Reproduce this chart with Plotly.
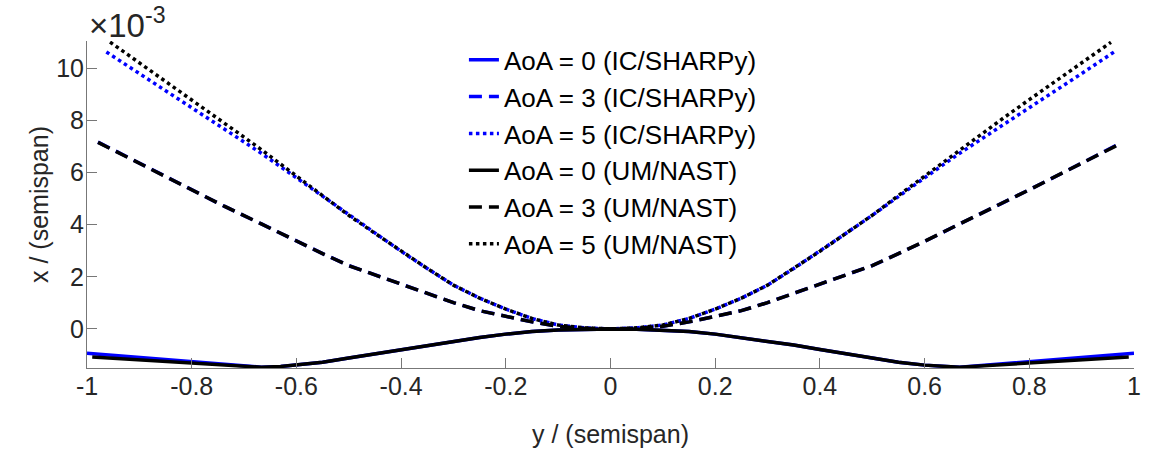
import plotly.graph_objects as go

# Chordwise deflection x (in units of 1e-3 semispan) along the span y / semispan

# AoA = 0
span_aoa0_ic = [-1.0, -0.667, -0.63, -0.6, -0.55, -0.5, -0.45, -0.4, -0.35, -0.3, -0.25, -0.2, -0.15, -0.1, -0.05, 0.0,
                0.05, 0.1, 0.15, 0.2, 0.25, 0.3, 0.35, 0.4, 0.45, 0.5, 0.55, 0.6, 0.63, 0.667, 1.0]
x_aoa0_ic = [-0.93, -1.47, -1.44, -1.39, -1.28, -1.12, -0.96, -0.79, -0.62, -0.47, -0.33, -0.20, -0.10, -0.04, -0.01, 0.0,
             -0.01, -0.04, -0.10, -0.20, -0.33, -0.47, -0.62, -0.79, -0.96, -1.12, -1.28, -1.39, -1.44, -1.47, -0.93]

span_aoa0_um = [-0.99, -0.667, -0.63, -0.6, -0.55, -0.5, -0.45, -0.4, -0.35, -0.3, -0.25, -0.2, -0.15, -0.1, -0.05, 0.0,
                0.05, 0.1, 0.15, 0.2, 0.25, 0.3, 0.35, 0.4, 0.45, 0.5, 0.55, 0.6, 0.63, 0.667, 0.99]
x_aoa0_um = [-1.08, -1.47, -1.44, -1.39, -1.28, -1.12, -0.96, -0.79, -0.62, -0.47, -0.33, -0.20, -0.10, -0.04, -0.01, 0.0,
             -0.01, -0.04, -0.10, -0.20, -0.33, -0.47, -0.62, -0.79, -0.96, -1.12, -1.28, -1.39, -1.44, -1.47, -1.08]

# AoA = 3
span_aoa3 = [-0.979, -0.9, -0.8, -0.738, -0.667, -0.6, -0.55, -0.5, -0.45, -0.4, -0.35, -0.3, -0.25, -0.2, -0.15, -0.1, -0.05, 0.0,
             0.05, 0.1, 0.15, 0.2, 0.25, 0.3, 0.35, 0.4, 0.45, 0.5, 0.55, 0.6, 0.667, 0.738, 0.8, 0.9, 0.976]
x_aoa3_ic = [7.17, 6.36, 5.34, 4.71, 4.03, 3.36, 2.89, 2.43, 2.07, 1.73, 1.37, 1.01, 0.70, 0.48, 0.27, 0.10, 0.02, 0.0,
             0.02, 0.10, 0.27, 0.48, 0.70, 1.01, 1.37, 1.73, 2.07, 2.43, 2.89, 3.36, 4.03, 4.71, 5.34, 6.36, 7.15]
x_aoa3_um = [7.16, 6.36, 5.34, 4.71, 4.03, 3.36, 2.89, 2.43, 2.07, 1.73, 1.37, 1.01, 0.70, 0.48, 0.27, 0.10, 0.02, 0.0,
             0.02, 0.10, 0.27, 0.48, 0.70, 1.01, 1.37, 1.73, 2.07, 2.43, 2.89, 3.36, 4.03, 4.71, 5.34, 6.36, 7.13]

# AoA = 5
span_aoa5_ic = [-0.963, -0.9, -0.8, -0.751, -0.7, -0.667, -0.6, -0.55, -0.5, -0.45, -0.4, -0.35, -0.3, -0.25, -0.2, -0.15, -0.1, -0.05, 0.0,
                0.05, 0.1, 0.15, 0.2, 0.25, 0.3, 0.35, 0.4, 0.45, 0.5, 0.55, 0.6, 0.667, 0.7, 0.751, 0.8, 0.9, 0.962]
x_aoa5_ic = [10.63, 9.80, 8.49, 7.85, 7.18, 6.74, 5.80, 5.09, 4.36, 3.67, 2.98, 2.32, 1.68, 1.18, 0.76, 0.40, 0.15, 0.04, 0.0,
             0.04, 0.15, 0.40, 0.76, 1.18, 1.68, 2.32, 2.98, 3.67, 4.36, 5.09, 5.80, 6.74, 7.18, 7.85, 8.49, 9.80, 10.63]

span_aoa5_um = [-0.956, -0.9, -0.8, -0.751, -0.7, -0.667, -0.6, -0.55, -0.5, -0.45, -0.4, -0.35, -0.3, -0.25, -0.2, -0.15, -0.1, -0.05, 0.0,
                0.05, 0.1, 0.15, 0.2, 0.25, 0.3, 0.35, 0.4, 0.45, 0.5, 0.55, 0.6, 0.667, 0.7, 0.751, 0.8, 0.9, 0.956]
x_aoa5_um = [11.01, 10.22, 8.80, 8.10, 7.36, 6.88, 5.87, 5.12, 4.36, 3.67, 2.98, 2.32, 1.68, 1.18, 0.76, 0.40, 0.15, 0.04, 0.0,
             0.04, 0.15, 0.40, 0.76, 1.18, 1.68, 2.32, 2.98, 3.67, 4.36, 5.12, 5.87, 6.88, 7.36, 8.10, 8.80, 10.22, 11.00]

x_ticks = [-1, -0.8, -0.6, -0.4, -0.2, 0, 0.2, 0.4, 0.6, 0.8, 1]
x_tick_labels = ["-1", "-0.8", "-0.6", "-0.4", "-0.2", "0", "0.2", "0.4", "0.6", "0.8", "1"]
y_ticks = [0, 2, 4, 6, 8, 10]
y_tick_labels = ["0", "2", "4", "6", "8", "10"]

FONT = "Liberation Sans, Arial, Helvetica, sans-serif"
TXT = "#262626"
BLUE = "#0000ff"
BLACK = "#000000"
LW = 3.5
DASH = "13px,7px"

series = [
    ("AoA = 0 (IC/SHARPy)", span_aoa0_ic, x_aoa0_ic, BLUE, "solid"),
    ("AoA = 3 (IC/SHARPy)", span_aoa3, x_aoa3_ic, BLUE, DASH),
    ("AoA = 5 (IC/SHARPy)", span_aoa5_ic, x_aoa5_ic, BLUE, "dot"),
    ("AoA = 0 (UM/NAST)", span_aoa0_um, x_aoa0_um, BLACK, "solid"),
    ("AoA = 3 (UM/NAST)", span_aoa3, x_aoa3_um, BLACK, DASH),
    ("AoA = 5 (UM/NAST)", span_aoa5_um, x_aoa5_um, BLACK, "dot"),
]

fig = go.Figure()
for name, ys, xs, color, dash in series:
    fig.add_trace(go.Scatter(
        x=ys, y=xs, name=name, mode="lines",
        line=dict(color=color, width=LW, dash=dash),
    ))

axis_common = dict(
    showline=True, linecolor="#777777", linewidth=1, mirror=False,
    ticks="inside", ticklen=10, tickcolor="#777777", tickwidth=1,
    showgrid=False, zeroline=False,
    tickfont=dict(family=FONT, size=25, color=TXT),
)

fig.update_layout(
    width=1153, height=457,
    margin=dict(l=87, r=13, t=41, b=89),
    paper_bgcolor="white", plot_bgcolor="white",
    font=dict(family=FONT, color=TXT),
    xaxis=dict(
        range=[-1, 1], tickvals=x_ticks, ticktext=x_tick_labels,
        ticklabelstandoff=-4,
        title=dict(text="y / (semispan)", font=dict(family=FONT, size=25, color=TXT), standoff=26),
        **axis_common,
    ),
    yaxis=dict(
        range=[-1.5, 11.05], tickvals=y_ticks, ticktext=y_tick_labels,
        ticklabelstandoff=-3,
        title=dict(text="x / (semispan)", font=dict(family=FONT, size=25, color=TXT), standoff=0),
        **axis_common,
    ),
    legend=dict(
        x=0.36, y=1.014, xanchor="left", yanchor="top",
        bgcolor="rgba(0,0,0,0)", borderwidth=0,
        font=dict(family=FONT, size=26, color="#000000"),
        tracegroupgap=0, maxheight=420,
    ),
    showlegend=True,
)

fig.add_annotation(
    xref="paper", yref="paper", x=0, y=1, xanchor="left", yanchor="bottom",
    xshift=0, yshift=-5,
    text="×10<sup>-3</sup>", showarrow=False,
    font=dict(family=FONT, size=33, color=TXT),
)

fig.write_html("out.html")
